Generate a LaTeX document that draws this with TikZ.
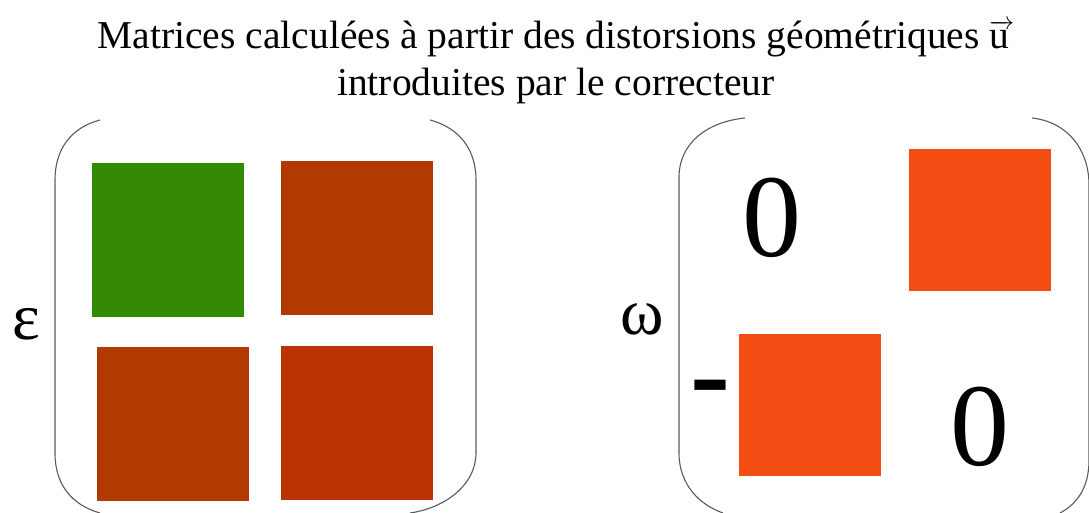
\documentclass[tikz,border=0pt]{standalone}
\usepackage{amsmath}
\usepackage{fontspec}
\setmainfont{Liberation Serif}
\usetikzlibrary{positioning}
\definecolor{matgreen}{HTML}{348A06}
\definecolor{matbrown}{HTML}{B03A00}
\definecolor{matred}{HTML}{B93400}
\definecolor{matorange}{HTML}{F24E14}
\definecolor{brkgrey}{HTML}{5A5A5A}

\begin{document}
\begin{tikzpicture}[x=1pt, y=-1pt, every node/.style={inner sep=0pt},
  sq/.style={minimum width=152pt, minimum height=154pt},
  osq/.style={fill=matorange, minimum width=142pt, minimum height=142pt},
  brk/.style={brkgrey, line width=1.1pt},
  zero/.style={font=\fontsize{118}{118}\selectfont},
  greek/.style={font=\fontsize{66}{66}\selectfont}]
\useasboundingbox (0,0) rectangle (1089,513);
\node[align=center, font=\fontsize{39.5}{47}\selectfont] (title) at (556,62)
  {Matrices calculées à partir des distorsions géométriques $\overrightarrow{\vphantom{M}\text{u}\,}$\\introduites par le correcteur};
\node[sq, fill=matgreen] (e11) at (168,240) {};
\node[sq, fill=matbrown, right=37pt of e11, yshift=2pt] (e12) {};
\node[sq, fill=matbrown, below=30pt of e11, xshift=5pt] (e21) {};
\node[sq, fill=matred, below=31pt of e12] (e22) {};
\node[greek] (eps) at (26,324) {ε};
\draw[brk] (100,120) .. controls (70,128) and (55,150) .. (55,180) -- (55,453) .. controls (55,485) and (72,505) .. (100,513);
\draw[brk] (430,120) .. controls (460,128) and (476,150) .. (476,180) -- (476,453) .. controls (476,485) and (445,508) .. (410,513);
\node[zero] (w11) at (772,218) {0};
\node[osq] (w12) at (980,220) {};
\node[osq] (w21) at (810,405) {};
\node[zero] (w22) at (980,427) {0};
\node[font=\bfseries\fontsize{120}{120}\selectfont] (minus) at (710,397) {-};
\node[greek] (omega) at (642,319) {ω};
\draw[brk] (745,118) .. controls (705,122) and (679,145) .. (679,177) -- (679,453) .. controls (679,485) and (700,505) .. (723,513);
\draw[brk] (1032,118) .. controls (1068,122) and (1089,150) .. (1089,185) -- (1089,460) .. controls (1089,490) and (1075,505) .. (1060,513);
\end{tikzpicture}
\end{document}
